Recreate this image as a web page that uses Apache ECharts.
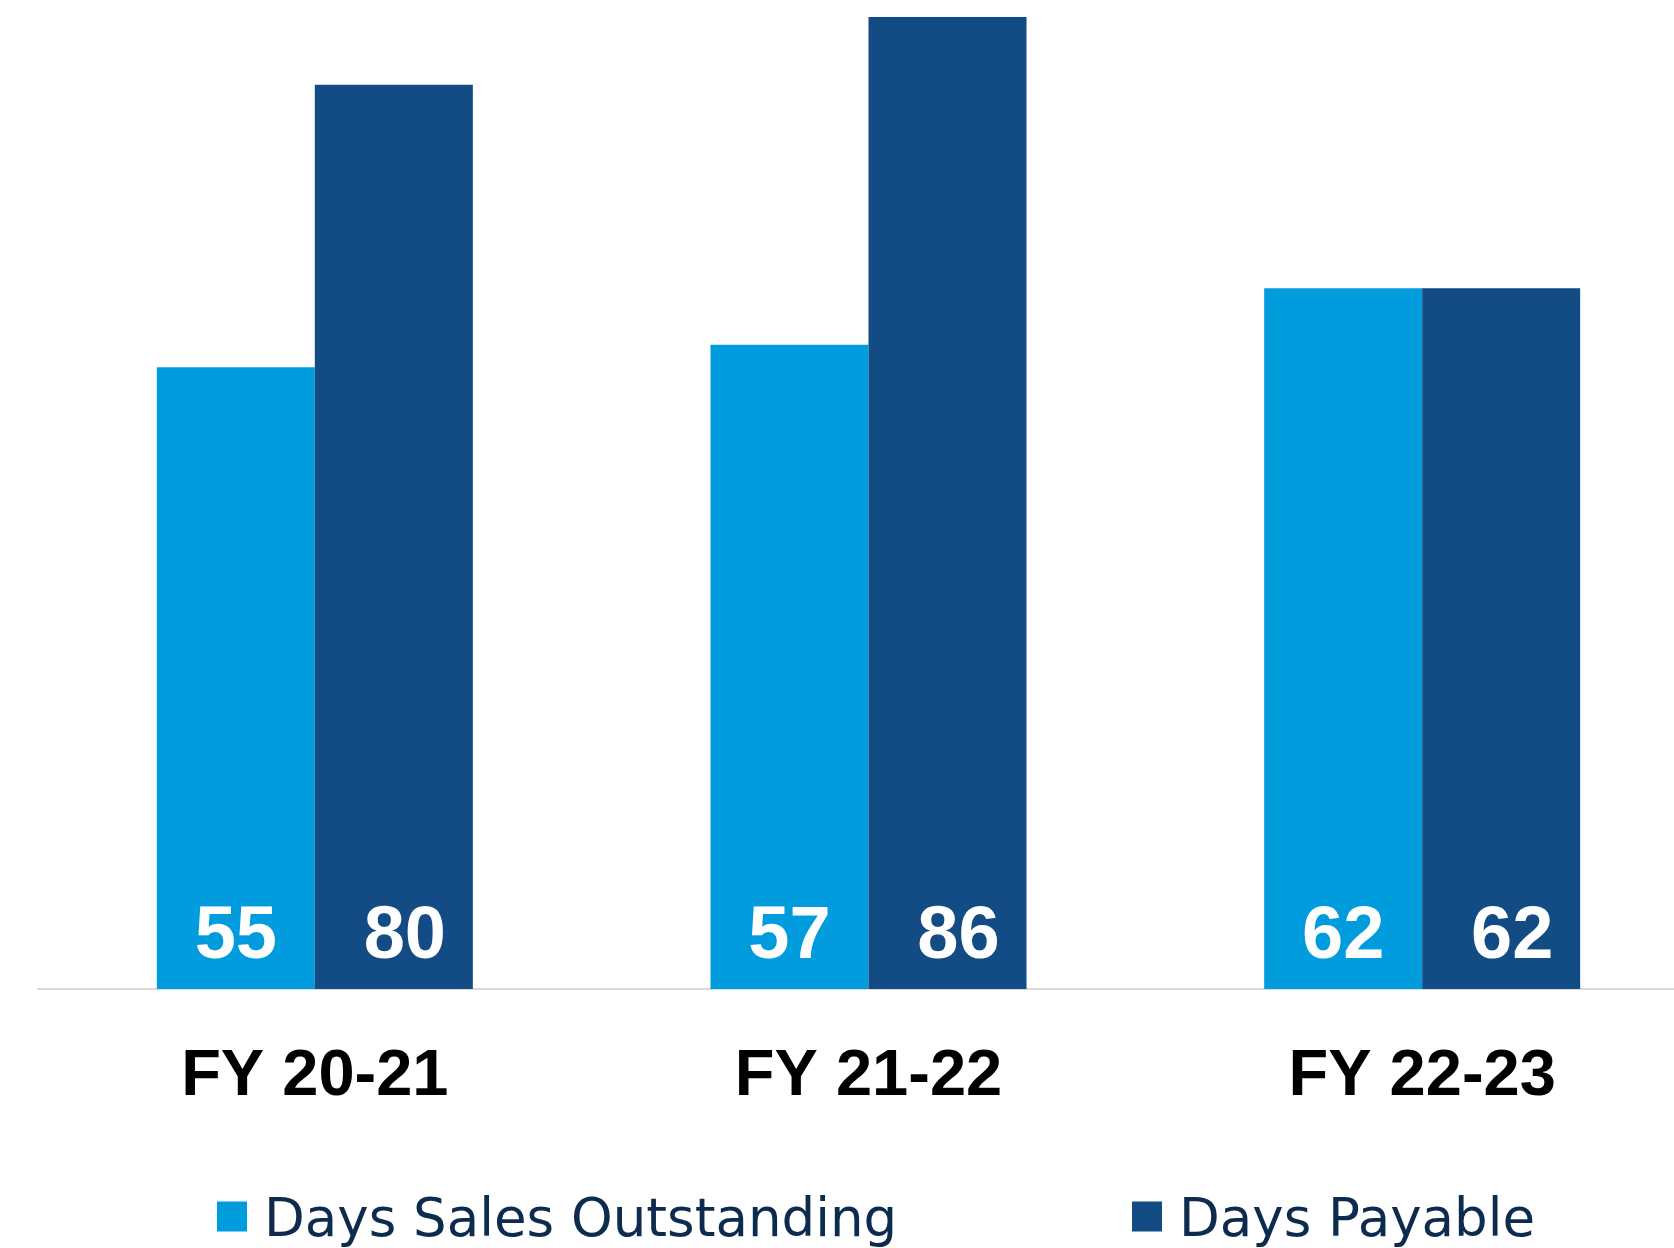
<!DOCTYPE html>
<html style="height: 100%">
<head>
	<meta charset="utf-8">
</head>
<body style="height: 100%; margin: 0; background: #ffffff">
<div id="container" style="width: 1674px; height: 1248px"></div>
<script src="https://cdn.jsdelivr.net/npm/echarts@6/dist/echarts.min.js"></script>
<script type="text/javascript">
	var categories = ['FY 20-21', 'FY 21-22', 'FY 22-23'];
	var dsoValues = [55, 57, 62];
	var payableValues = [80, 86, 62];
	var seriesNames = ['Days Sales Outstanding', 'Days Payable'];

	var lightBlue = '#009CDE';
	var darkBlue = '#134B85';
	var legendText = '#0D2B4E';

	var dom = document.getElementById('container');
	var myChart = echarts.init(dom);

	function legendStyle(name, left) {
		return {
			data: [name],
			left: left,
			top: 1196,
			padding: 0,
			itemWidth: 30,
			itemHeight: 30,
			itemGap: 0,
			icon: 'rect',
			formatter: function (n) {
				return '{t|' + n + '}';
			},
			textStyle: {
				color: legendText,
				fontFamily: 'DejaVu Sans',
				fontSize: 53,
				padding: [0, 0, 0, 12],
				rich: {
					t: {
						color: legendText,
						fontFamily: 'DejaVu Sans',
						fontSize: 53,
						padding: [12, 0, 0, 0]
					}
				}
			}
		};
	}

	var barLabel = {
		show: true,
		position: 'insideBottom',
		distance: 14,
		color: '#ffffff',
		fontFamily: 'Liberation Sans',
		fontWeight: 'bold',
		fontSize: 74
	};

	var option = {
		animation: false,
		legend: [
			legendStyle(seriesNames[0], 217),
			legendStyle(seriesNames[1], 1132)
		],
		grid: {
			left: 38,
			right: -25,
			top: 17,
			bottom: 259,
			containLabel: false,
			outerBoundsMode: 'none'
		},
		xAxis: {
			type: 'category',
			data: categories,
			axisLine: {
				show: true,
				lineStyle: { color: '#d9d9d9', width: 2 }
			},
			axisTick: { show: false },
			axisLabel: {
				margin: 56,
				color: '#000000',
				fontFamily: 'Liberation Sans',
				fontWeight: 'bold',
				fontSize: 65
			}
		},
		yAxis: {
			type: 'value',
			min: 0,
			max: 86,
			show: false,
			splitLine: { show: false }
		},
		series: [
			{
				name: seriesNames[0],
				type: 'bar',
				data: dsoValues,
				barWidth: 158,
				barGap: '0%',
				itemStyle: { color: lightBlue },
				label: barLabel
			},
			{
				name: seriesNames[1],
				type: 'bar',
				data: payableValues,
				barWidth: 158,
				barGap: '0%',
				itemStyle: { color: darkBlue },
				label: Object.assign({}, barLabel, { offset: [11, 0] })
			}
		]
	};

	myChart.setOption(option, true);
</script>
</body>
</html>
